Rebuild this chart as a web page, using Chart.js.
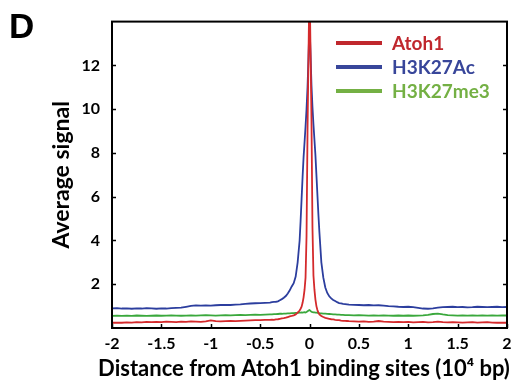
<!DOCTYPE html>
<html>
<head>
<meta charset="utf-8">
<script src="https://cdn.jsdelivr.net/npm/chart.js@4"></script>
<style>
  body { margin: 0; background: #fff; }
  #wrap { width: 528px; height: 386px; }
</style>
</head>
<body>
<div id="wrap"><canvas id="profile" width="528" height="386"></canvas></div>
<script>
// distance from Atoh1 sites, in 10^4 bp
const distance = [
  -2.00, -1.95, -1.90, -1.85, -1.80, -1.75, -1.70, -1.65, -1.60, -1.55, -1.50, -1.45, -1.40, -1.35, -1.30, -1.25,
  -1.20, -1.15, -1.10, -1.05, -1.00, -0.95, -0.90, -0.85, -0.80, -0.75, -0.70, -0.65, -0.60, -0.55, -0.50, -0.45,
  -0.40, -0.38, -0.36, -0.34, -0.32, -0.30, -0.28, -0.26, -0.24, -0.22, -0.20, -0.18, -0.16, -0.14, -0.12,
  -0.10, -0.09, -0.08, -0.07, -0.06, -0.05, -0.04, -0.03, -0.02, -0.01, 0, 0.01, 0.02, 0.03, 0.04, 0.05, 0.06, 0.07, 0.08, 0.09, 0.10,
  0.12, 0.14, 0.16, 0.18, 0.20, 0.22, 0.24, 0.26, 0.28, 0.30, 0.32, 0.34, 0.36, 0.38, 0.40,
  0.45, 0.50, 0.55, 0.60, 0.65, 0.70, 0.75, 0.80, 0.85, 0.90, 0.95, 1.00, 1.05, 1.10, 1.15, 1.20,
  1.25, 1.30, 1.35, 1.40, 1.45, 1.50, 1.55, 1.60, 1.65, 1.70, 1.75, 1.80, 1.85, 1.90, 1.95, 2.00
];

const atoh1 = [
  0.24, 0.25, 0.24, 0.26, 0.25, 0.27, 0.26, 0.28, 0.27, 0.28, 0.27, 0.29, 0.28, 0.27, 0.29, 0.28,
  0.30, 0.29, 0.28, 0.30, 0.35, 0.31, 0.30, 0.31, 0.32, 0.31, 0.33, 0.34, 0.35, 0.36, 0.36, 0.37,
  0.37, 0.38, 0.37, 0.39, 0.40, 0.42, 0.44, 0.45, 0.47, 0.50, 0.53, 0.55, 0.58, 0.62, 0.70,
  0.80, 0.88, 0.97, 1.15, 1.40, 1.75, 2.3, 4.2, 9.0, 12.5, 16.0, 12.8, 9.5, 4.6, 2.4, 1.75, 1.3, 1.0, 0.82, 0.70, 0.62,
  0.55, 0.50, 0.46, 0.44, 0.42, 0.40, 0.39, 0.37, 0.36, 0.36, 0.34, 0.33, 0.33, 0.32, 0.31,
  0.30, 0.29, 0.30, 0.28, 0.29, 0.32, 0.29, 0.28, 0.27, 0.28, 0.27, 0.28, 0.26, 0.27, 0.28, 0.26,
  0.27, 0.29, 0.27, 0.26, 0.27, 0.26, 0.25, 0.26, 0.27, 0.25, 0.26, 0.27, 0.25, 0.24, 0.25, 0.24
];

const h3k27ac = [
  0.90, 0.91, 0.89, 0.90, 0.88, 0.90, 0.89, 0.91, 0.90, 0.88, 0.90, 0.89, 0.91, 0.92, 0.93, 0.97,
  1.01, 1.03, 1.02, 1.03, 1.02, 1.04, 1.05, 1.06, 1.05, 1.07, 1.08, 1.10, 1.12, 1.13, 1.14, 1.15,
  1.16, 1.18, 1.19, 1.20, 1.22, 1.27, 1.32, 1.38, 1.46, 1.58, 1.72, 1.90, 2.05, 2.35, 3.00,
  4.0, 4.9, 5.9, 6.9, 7.8, 8.5, 9.2, 10.0, 11.0, 12.4, 13.9, 12.6, 11.1, 10.1, 9.3, 8.6, 7.9, 7.0, 6.1, 5.2, 4.4,
  3.0, 2.3, 1.85, 1.60, 1.45, 1.35, 1.28, 1.23, 1.18, 1.14, 1.12, 1.10, 1.09, 1.08, 1.07,
  1.06, 1.05, 1.04, 1.05, 1.03, 1.04, 1.02, 1.00, 0.99, 0.97, 0.96, 0.97, 0.95, 0.92, 0.89, 0.88,
  0.90, 0.93, 0.95, 0.96, 0.97, 0.95, 0.96, 0.94, 0.95, 0.97, 0.96, 0.95, 0.96, 0.97, 0.95, 0.96
];

const h3k27me3 = [
  0.55, 0.56, 0.55, 0.56, 0.55, 0.57, 0.56, 0.55, 0.56, 0.57, 0.56, 0.57, 0.58, 0.57, 0.56, 0.57,
  0.58, 0.57, 0.58, 0.59, 0.58, 0.57, 0.58, 0.59, 0.58, 0.59, 0.60, 0.59, 0.60, 0.61, 0.60, 0.61,
  0.62, 0.62, 0.63, 0.63, 0.64, 0.65, 0.65, 0.66, 0.66, 0.67, 0.67, 0.68, 0.68, 0.69, 0.69,
  0.70, 0.70, 0.71, 0.70, 0.71, 0.72, 0.71, 0.73, 0.76, 0.80, 0.82, 0.78, 0.74, 0.72, 0.71, 0.71, 0.70, 0.70, 0.69, 0.69, 0.68,
  0.67, 0.66, 0.66, 0.65, 0.64, 0.63, 0.62, 0.62, 0.61, 0.61, 0.60, 0.60, 0.59, 0.59, 0.59,
  0.58, 0.59, 0.58, 0.57, 0.58, 0.57, 0.58, 0.57, 0.56, 0.57, 0.56, 0.57, 0.56, 0.57, 0.58, 0.60,
  0.64, 0.66, 0.62, 0.59, 0.58, 0.57, 0.58, 0.57, 0.58, 0.57, 0.58, 0.57, 0.58, 0.57, 0.58, 0.57
];

const seriesNames = ['Atoh1', 'H3K27Ac', 'H3K27me3'];
const lineColors = ['#d42a2c', '#2c3e9e', '#3aa83c'];
const legendColors = ['#c0272d', '#38469a', '#74b044'];
const yTicks = [2, 4, 6, 8, 10, 12];
const xTicks = [-2, -1.5, -1, -0.5, 0, 0.5, 1, 1.5, 2];

const FONT = 'Lato, "Open Sans", sans-serif';

function toPoints(values) {
  return values.map((v, i) => ({ x: distance[i], y: v }));
}

// frame, inward ticks, legend, panel letter, x title
const decorations = {
  id: 'decorations',
  afterDraw(chart) {
    const ctx = chart.ctx;
    const area = chart.chartArea;
    const xs = chart.scales.x, ys = chart.scales.y;
    ctx.save();
    ctx.strokeStyle = '#000';
    ctx.lineWidth = 1.5;
    yTicks.forEach(v => {
      const py = Math.round(ys.getPixelForValue(v)) + 0.5;
      ctx.beginPath();
      ctx.moveTo(area.left, py); ctx.lineTo(area.left + 4, py);
      ctx.moveTo(area.right, py); ctx.lineTo(area.right - 4, py);
      ctx.stroke();
    });
    xTicks.forEach(v => {
      const px = Math.round(xs.getPixelForValue(v)) + 0.5;
      ctx.beginPath();
      ctx.moveTo(px, area.bottom); ctx.lineTo(px, area.bottom - 4);
      ctx.stroke();
    });
    ctx.lineWidth = 2;
    ctx.strokeRect(area.left, area.top, area.right - area.left, area.bottom - area.top);

    // legend
    ctx.font = 'bold 19px ' + FONT;
    ctx.textBaseline = 'middle';
    ctx.textAlign = 'left';
    seriesNames.forEach((name, i) => {
      const ly = 43 + i * 24;
      ctx.strokeStyle = legendColors[i];
      ctx.lineWidth = 4;
      ctx.beginPath();
      ctx.moveTo(336, ly); ctx.lineTo(382, ly);
      ctx.stroke();
      ctx.fillStyle = legendColors[i];
      ctx.fillText(name, 392, ly + 1);
    });

    ctx.fillStyle = '#000';
    ctx.textAlign = 'center';
    ctx.textBaseline = 'alphabetic';
    ctx.font = 'bold 22px ' + FONT;
    ctx.fillText('Distance from Atoh1 binding sites (10\u2074 bp)', 304, 376);

    ctx.textAlign = 'left';
    ctx.font = 'bold 35px "Liberation Sans", Arial, sans-serif';
    ctx.fillText('D', 9, 38);
    ctx.restore();
  }
};

new Chart(document.getElementById('profile'), {
  type: 'line',
  data: {
    datasets: [
      { label: seriesNames[0], data: toPoints(atoh1), borderColor: lineColors[0] },
      { label: seriesNames[1], data: toPoints(h3k27ac), borderColor: lineColors[1] },
      { label: seriesNames[2], data: toPoints(h3k27me3), borderColor: lineColors[2] }
    ]
  },
  options: {
    responsive: false,
    animation: false,
    layout: { padding: { top: 16, right: 21, left: 0, bottom: 0 } },
    elements: {
      line: { borderWidth: 1.8, tension: 0 },
      point: { radius: 0 }
    },
    plugins: { legend: { display: false }, tooltip: { enabled: false } },
    scales: {
      x: {
        type: 'linear',
        min: -2, max: 2,
        afterFit(scale) { scale.height = 58; },
        afterBuildTicks(scale) { scale.ticks = xTicks.map(v => ({ value: v })); },
        grid: { display: false, drawTicks: false },
        border: { display: false },
        ticks: {
          padding: 6,
          color: '#000',
          font: { family: FONT, size: 16, weight: 'bold' },
          callback: v => String(v)
        }
      },
      y: {
        min: 0, max: 14,
        afterFit(scale) { scale.width = 112; },
        afterBuildTicks(scale) { scale.ticks = yTicks.map(v => ({ value: v })); },
        grid: { display: false, drawTicks: false },
        border: { display: false },
        ticks: {
          padding: 12,
          color: '#000',
          font: { family: FONT, size: 16, weight: 'bold' }
        },
        title: {
          display: true,
          text: 'Average signal',
          color: '#000',
          font: { family: FONT, size: 23, weight: 'bold' },
          padding: { top: 48, bottom: 0 }
        }
      }
    }
  },
  plugins: [decorations]
});
</script>
</body>
</html>
